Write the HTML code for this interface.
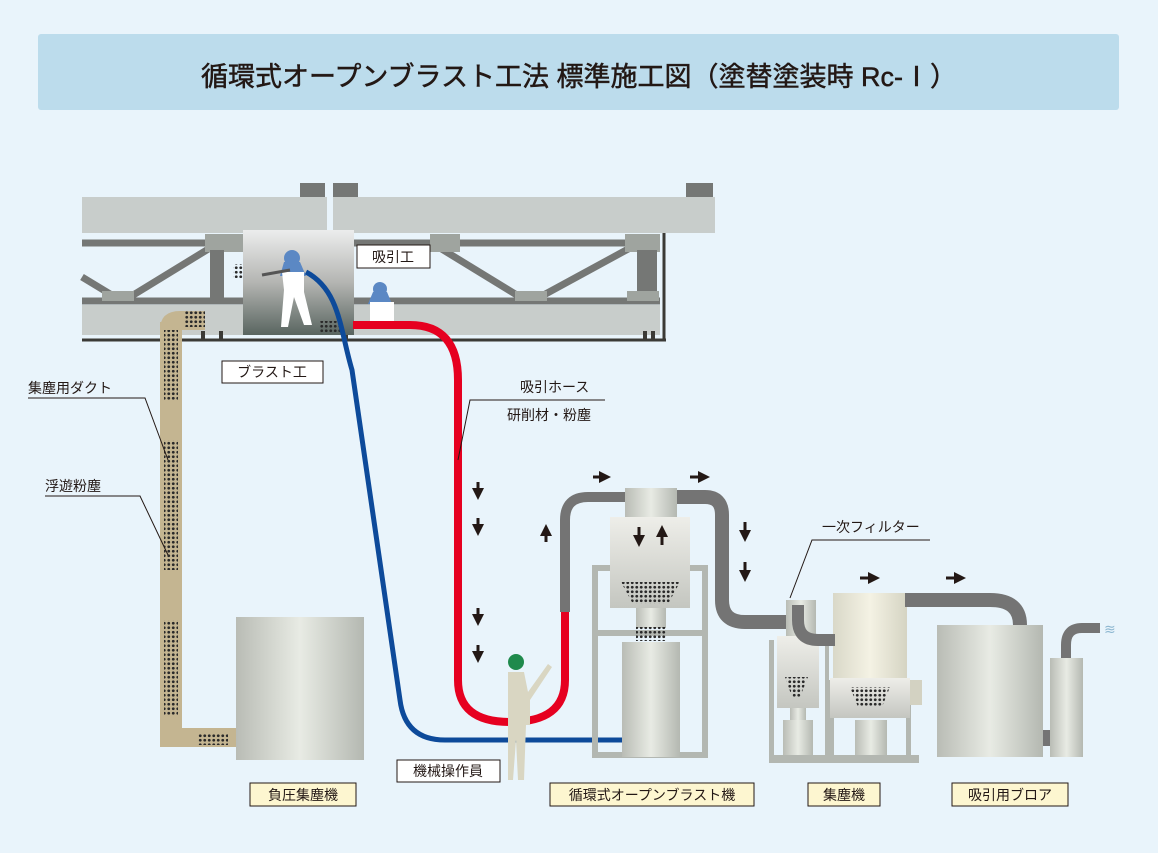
<!DOCTYPE html>
<html><head><meta charset="utf-8"><style>
body{margin:0;background:#e9f4fb;}
svg{display:block;font-family:"Liberation Sans","Noto Sans CJK JP",sans-serif;}
</style></head><body>
<svg width="1158" height="853" viewBox="0 0 1158 853" xmlns="http://www.w3.org/2000/svg">
<defs>
<linearGradient id="cyl" x1="0" x2="1" y1="0" y2="0"><stop offset="0" stop-color="#b9bcb5"/><stop offset=".5" stop-color="#e8ebe4"/><stop offset="1" stop-color="#b4b8b1"/></linearGradient>
<linearGradient id="cream" x1="0" x2="1"><stop offset="0" stop-color="#d9d8c8"/><stop offset=".5" stop-color="#f4f2e4"/><stop offset="1" stop-color="#d5d4c3"/></linearGradient>
<linearGradient id="box" x1="0" x2="0" y1="0" y2="1"><stop offset="0" stop-color="#eceded"/><stop offset=".5" stop-color="#b4b5b2"/><stop offset="1" stop-color="#596560"/></linearGradient>
<linearGradient id="vbox" x1="0" x2="0" y1="0" y2="1"><stop offset="0" stop-color="#eeeee9"/><stop offset="1" stop-color="#c4c6c0"/></linearGradient>
<pattern id="dots" width="4.5" height="4.5" patternUnits="userSpaceOnUse"><circle cx="2.25" cy="2.25" r="1.4" fill="#2a2a2a"/></pattern>
<marker id="ah" markerWidth="4" markerHeight="4" refX="2" refY="2" orient="auto"><path d="M0,0L4,2L0,4z" fill="#231815"/></marker>
</defs>
<rect width="1158" height="853" fill="#e9f4fb"/>
<rect x="38" y="34" width="1081" height="76" rx="3" fill="#bcdcec"/>
<text x="579" y="86" font-size="27" text-anchor="middle" fill="#231815" stroke="#231815" stroke-width="0.5">循環式オープンブラスト工法 標準施工図（塗替塗装時 Rc-Ⅰ）</text>

<!-- bridge -->
<rect x="300" y="183" width="25" height="16" fill="#757775"/>
<rect x="333" y="183" width="25" height="16" fill="#757775"/>
<rect x="686" y="183" width="27" height="16" fill="#757775"/>
<rect x="82" y="197" width="245" height="36" fill="#c8cdcb"/>
<rect x="333" y="197" width="382" height="36" fill="#c8cdcb"/>
<g stroke="#757775" stroke-width="7">
<line x1="82" y1="243" x2="660" y2="243"/>
<line x1="82" y1="301" x2="660" y2="301"/>
<line x1="82" y1="277" x2="115" y2="297"/>
<line x1="130" y1="297" x2="210" y2="248"/>
<line x1="440" y1="248" x2="520" y2="297"/>
<line x1="540" y1="297" x2="630" y2="248"/>
</g>
<rect x="205" y="234" width="40" height="18" fill="#9fa49f"/>
<rect x="625" y="234" width="35" height="18" fill="#9fa49f"/>
<rect x="430" y="234" width="30" height="18" fill="#9fa49f"/>
<rect x="210" y="250" width="14" height="50" fill="#757775"/>
<rect x="637" y="250" width="20" height="50" fill="#757775"/>
<rect x="102" y="291" width="32" height="10" fill="#9fa49f"/>
<rect x="515" y="291" width="32" height="10" fill="#9fa49f"/>
<rect x="627" y="291" width="32" height="10" fill="#9fa49f"/>
<rect x="82" y="305" width="578" height="30" fill="#c8cdcb"/>
<line x1="82" y1="340" x2="666" y2="340" stroke="#3b3a36" stroke-width="3"/>
<line x1="664" y1="233" x2="664" y2="340" stroke="#3b3a36" stroke-width="3"/>
<g fill="#3b3a36"><rect x="201" y="331" width="4" height="8"/><rect x="219" y="331" width="4" height="8"/><rect x="344" y="331" width="4" height="8"/><rect x="643" y="331" width="4" height="8"/><rect x="651" y="331" width="4" height="8"/></g>
<rect x="243" y="230" width="111" height="105" fill="url(#box)"/>
<rect x="233" y="264" width="10" height="14" fill="url(#dots)"/>
<rect x="320" y="321" width="22" height="12" fill="url(#dots)"/>
<!-- workers -->
<g>
<circle cx="292" cy="258" r="8" fill="#5b88c4"/><path d="M284,262 L300,262 L306,276 L280,276z" fill="#5b88c4"/>
<path d="M282,272 h22 v20 l8,33 h-8 l-10,-28 l-6,30 h-7 l3,-37z" fill="#fff"/>
<line x1="262" y1="275" x2="290" y2="270" stroke="#555" stroke-width="3"/>
<circle cx="380" cy="289" r="7" fill="#5b88c4"/><path d="M373,292 h14 l5,12 h-24z" fill="#5b88c4"/>
<path d="M370,302 h24 v24 h-24z" fill="#fff"/>
</g>
<!-- duct -->
<path d="M171,730 Q171,745 185,745 H236 V728 H182 V322" fill="#c4b591"/>
<path d="M160,330 Q160,311 180,311 H205 V330z" fill="#c4b591"/>
<rect x="160" y="728" width="76" height="19" fill="#c4b591"/>
<rect x="160" y="322" width="22" height="415" fill="#c4b591"/>
<rect x="185" y="311" width="20" height="16" fill="url(#dots)"/>
<rect x="164" y="330" width="14" height="70" fill="url(#dots)"/>
<rect x="164" y="440" width="14" height="130" fill="url(#dots)"/>
<rect x="164" y="620" width="14" height="95" fill="url(#dots)"/>
<rect x="198" y="733" width="30" height="12" fill="url(#dots)"/>
<rect x="236" y="617" width="128" height="143" fill="url(#cyl)"/>

<!-- hoses -->
<path d="M306,272 C340,290 340,330 352,370 L400,700 Q405,740 445,740 H622" fill="none" stroke="#0d4a9a" stroke-width="5"/>
<path d="M565,612 V520 Q565,497 588,497 H625" fill="none" stroke="#747474" stroke-width="10"/>
<path d="M353,325 H410 Q458,325 458,380 V680 Q458,722 510,722 Q565,722 565,680 V612" fill="none" stroke="#e60020" stroke-width="8"/>
<!-- operator -->
<circle cx="516" cy="662" r="8" fill="#1f8a4c"/>
<path d="M508,672 h16 l4,20 l20,-28 l4,3 l-22,33 v25 h-4 l-2,55 h-6 l-2,-40 l-3,40 h-5 v-60z" fill="#d9d6c2"/>

<!-- blast machine -->
<g fill="#b3b7b1">
<rect x="592" y="565" width="6" height="192"/><rect x="702" y="565" width="6" height="192"/>
<rect x="592" y="565" width="116" height="6"/><rect x="592" y="630" width="116" height="6"/><rect x="592" y="752" width="116" height="6"/>
</g>
<rect x="625" y="488" width="52" height="30" fill="url(#cyl)"/>
<path d="M677,497 H705 Q722,497 722,515 V600 Q722,622 745,622 H790" fill="none" stroke="#747474" stroke-width="14"/>
<rect x="610" y="517" width="80" height="91" fill="url(#vbox)"/>
<path d="M621,582 H680 L668,604 H633z" fill="url(#dots)"/>
<rect x="636" y="608" width="30" height="20" fill="url(#cyl)"/>
<rect x="636" y="627" width="30" height="14" fill="url(#dots)"/>
<rect x="622" y="642" width="58" height="115" fill="url(#cyl)"/>

<!-- dust collector -->
<g fill="#b3b7b1">
<rect x="769" y="640" width="5" height="122"/><rect x="825" y="640" width="4" height="122"/>
<rect x="769" y="755" width="150" height="8"/><rect x="829" y="708" width="80" height="5"/>
<rect x="829" y="680" width="5" height="80"/><rect x="906" y="680" width="5" height="80"/>
</g>
<rect x="786" y="600" width="30" height="40" fill="url(#cyl)"/>
<rect x="777" y="636" width="42" height="72" fill="url(#vbox)"/>
<path d="M785,677 H808 L800,697 H792z" fill="url(#dots)"/>
<rect x="790" y="708" width="16" height="12" fill="url(#cyl)"/>
<rect x="783" y="720" width="30" height="35" fill="url(#cyl)"/>
<rect x="833" y="593" width="74" height="85" fill="url(#cream)"/>
<path d="M798,605 V620 Q798,640 818,640 H835" fill="none" stroke="#747474" stroke-width="12"/>
<rect x="830" y="678" width="80" height="40" fill="url(#vbox)"/>
<rect x="910" y="680" width="12" height="25" fill="#d3d2c2"/>
<path d="M850,687 H890 L882,707 H858z" fill="url(#dots)"/>
<rect x="855" y="720" width="32" height="35" fill="url(#cyl)"/>
<!-- blower -->
<path d="M905,600 H990 Q1020,600 1020,625" fill="none" stroke="#747474" stroke-width="14"/>
<rect x="937" y="625" width="106" height="132" fill="url(#cyl)"/>
<rect x="1043" y="730" width="8" height="16" fill="#747474"/>
<rect x="1050" y="658" width="33" height="99" fill="url(#cyl)"/>
<path d="M1066,658 V645 Q1066,628 1082,628 H1100" fill="none" stroke="#747474" stroke-width="10"/>
<text x="1104" y="634" font-size="14" fill="#8cb6d0">≋</text>

<!-- arrows -->
<g stroke="#231815" stroke-width="3" marker-end="url(#ah)">
<line x1="478" y1="482" x2="478" y2="494"/><line x1="478" y1="518" x2="478" y2="530"/>
<line x1="478" y1="608" x2="478" y2="620"/><line x1="478" y1="645" x2="478" y2="657"/>
<line x1="546" y1="542" x2="546" y2="530"/>
<line x1="593" y1="477" x2="605" y2="477"/><line x1="690" y1="477" x2="704" y2="477"/>
<line x1="745" y1="522" x2="745" y2="536"/><line x1="745" y1="562" x2="745" y2="576"/>
<line x1="639" y1="527" x2="639" y2="541"/><line x1="662" y1="545" x2="662" y2="531"/>
<line x1="860" y1="578" x2="874" y2="578"/><line x1="946" y1="578" x2="960" y2="578"/>
</g>

<!-- leaders -->
<g stroke="#231815" stroke-width="1" fill="none">
<polyline points="28,398 145,398 168,460"/>
<polyline points="45,496 140,496 168,555"/>
<polyline points="605,400 470,400 458,460"/>
<polyline points="930,540 812,540 790,598"/>
</g>
<g font-size="14" fill="#231815">
<text x="28" y="393">集塵用ダクト</text>
<text x="45" y="491">浮遊粉塵</text>
<text x="520" y="392">吸引ホース</text>
<text x="507" y="420">研削材・粉塵</text>
<text x="822" y="532">一次フィルター</text>
</g>
<g font-size="14" fill="#231815" text-anchor="middle" stroke-width="1">
<rect x="357" y="245" width="73" height="23" fill="#fff" stroke="#231815"/><text x="393" y="262">吸引工</text>
<rect x="222" y="361" width="101" height="22" fill="#fff" stroke="#231815"/><text x="272" y="377">ブラスト工</text>
<rect x="397" y="760" width="103" height="22" fill="#fff" stroke="#231815"/><text x="448" y="776">機械操作員</text>
<rect x="250" y="783" width="106" height="23" fill="#fdf6d0" stroke="#231815"/><text x="303" y="800">負圧集塵機</text>
<rect x="550" y="783" width="204" height="23" fill="#fdf6d0" stroke="#231815"/><text x="652" y="800">循環式オープンブラスト機</text>
<rect x="808" y="783" width="72" height="23" fill="#fdf6d0" stroke="#231815"/><text x="844" y="800">集塵機</text>
<rect x="952" y="783" width="116" height="23" fill="#fdf6d0" stroke="#231815"/><text x="1010" y="800">吸引用ブロア</text>
</g>
</svg>
</body></html>
